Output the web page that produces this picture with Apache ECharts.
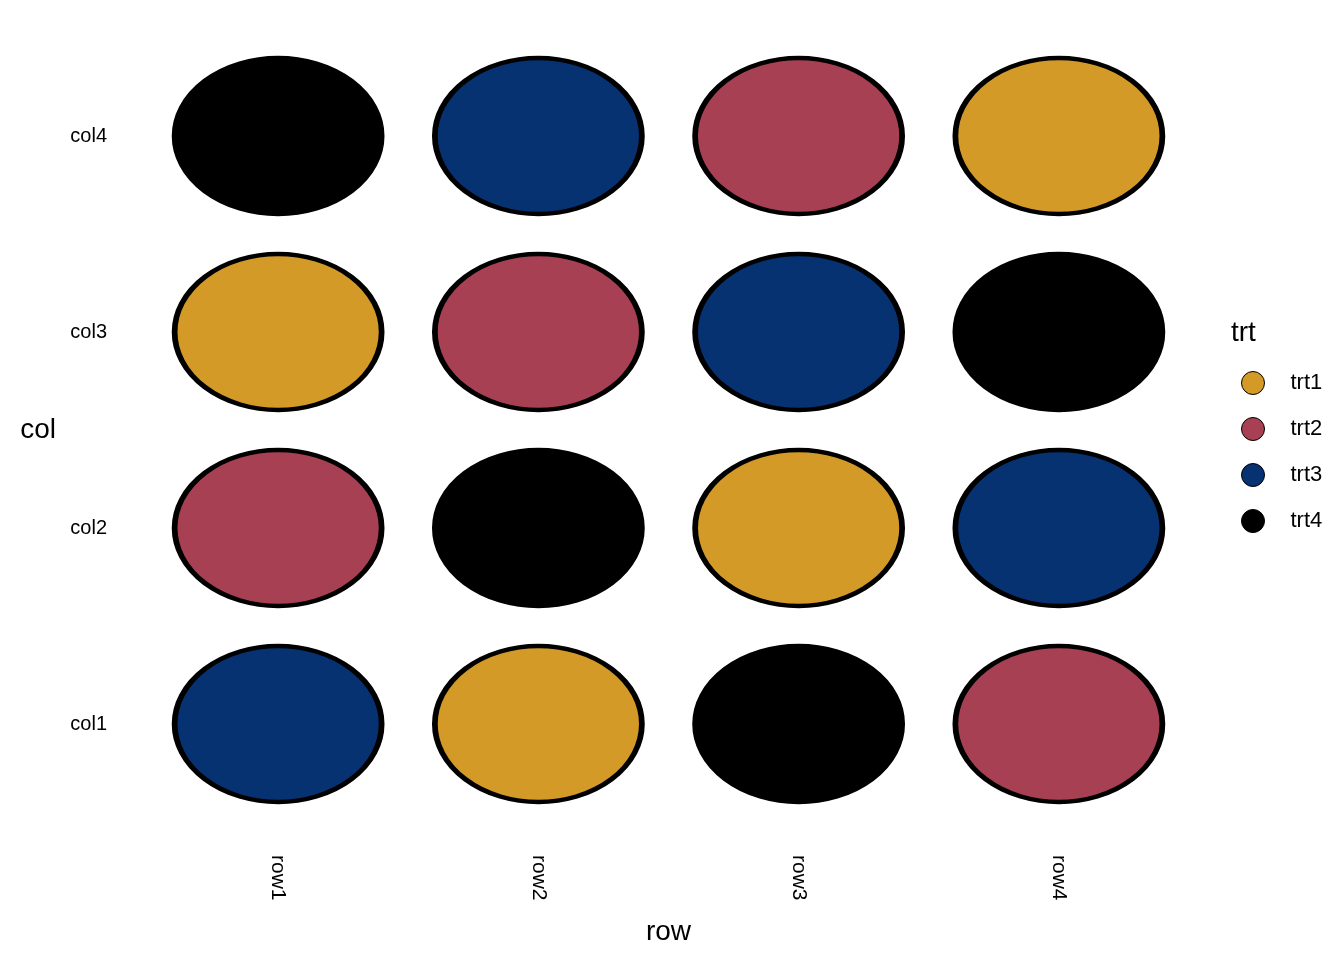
<!DOCTYPE html>
<html>
<head>
<meta charset="utf-8">
<script src="https://cdn.jsdelivr.net/npm/echarts@6/dist/echarts.min.js"></script>
<style>
  html, body { margin: 0; padding: 0; background: #fff; }
  #chart { width: 1344px; height: 960px; }
</style>
</head>
<body>
<div id="chart"></div>
<script>
// latin square layout
const rows = ['row1', 'row2', 'row3', 'row4']
const cols = ['col1', 'col2', 'col3', 'col4']
const treatments = ['trt1', 'trt2', 'trt3', 'trt4']
const trtColors = ['#D39A28', '#A84053', '#063272', '#000000']
// treatment in each cell, one list per column, ordered row1..row4
const col1Trt = ['trt3', 'trt1', 'trt4', 'trt2']
const col2Trt = ['trt2', 'trt4', 'trt1', 'trt3']
const col3Trt = ['trt1', 'trt2', 'trt3', 'trt4']
const col4Trt = ['trt4', 'trt3', 'trt2', 'trt1']

const cellTrt = [col1Trt, col2Trt, col3Trt, col4Trt]
const font = 'Liberation Sans, Arial, sans-serif'

const series = treatments.map(function (trt, i) {
  const data = []
  cellTrt.forEach(function (list, c) {
    list.forEach(function (t, r) {
      if (t === trt) data.push([rows[r], cols[c]])
    })
  })
  return {
    name: trt,
    type: 'scatter',
    symbol: 'circle',
    symbolSize: [207, 156],
    itemStyle: {
      color: trtColors[i],
      borderColor: '#000',
      borderWidth: 5,
      opacity: 1
    },
    emphasis: { disabled: true },
    data: data
  }
})

const chart = echarts.init(document.getElementById('chart'))
chart.setOption({
  backgroundColor: '#ffffff',
  animation: false,
  textStyle: { fontFamily: font },
  title: {
    text: 'trt',
    left: 1226,
    top: 314,
    textStyle: { fontFamily: font, fontSize: 28, fontWeight: 'normal', color: '#000' }
  },
  legend: {
    data: treatments,
    orient: 'vertical',
    left: 1236,
    top: 366,
    icon: 'circle',
    itemWidth: 23,
    itemHeight: 23,
    itemGap: 22,
    itemStyle: { borderColor: '#000', borderWidth: 1 },
    textStyle: { fontFamily: font, fontSize: 22, lineHeight: 22, color: '#000', padding: [0, 0, 0, 21] }
  },
  grid: { left: 148, right: 155, top: 38, bottom: 138 },
  xAxis: {
    type: 'category',
    data: rows,
    name: 'row',
    nameLocation: 'middle',
    nameGap: 96,
    nameTextStyle: { fontFamily: font, fontSize: 28, color: '#000' },
    axisLine: { show: false },
    axisTick: { show: false },
    splitLine: { show: false },
    axisLabel: { rotate: -90, margin: 33, fontSize: 21, color: '#000', fontFamily: font }
  },
  yAxis: {
    type: 'category',
    data: cols,
    name: 'col',
    nameLocation: 'middle',
    nameGap: 92,
    nameRotate: 0,
    nameTextStyle: { fontFamily: font, fontSize: 28, color: '#000' },
    axisLine: { show: false },
    axisTick: { show: false },
    splitLine: { show: false },
    axisLabel: { margin: 41, fontSize: 20, color: '#000', fontFamily: font, padding: [6, 0, 0, 0] }
  },
  series: series
})
</script>
</body>
</html>
